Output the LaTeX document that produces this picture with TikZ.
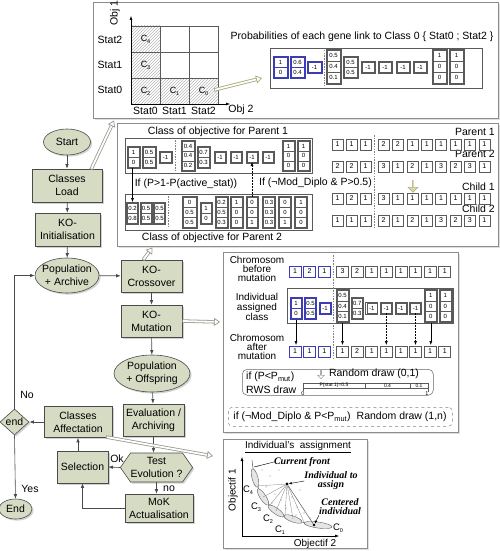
\documentclass[tikz,border=0pt]{standalone}
\usepackage{fontspec}
\setmainfont{Liberation Sans}
\setsansfont{Liberation Sans}
\newfontfamily\timesbi{Liberation Serif}
\usetikzlibrary{arrows.meta,shapes.geometric,shapes.symbols,shapes.arrows,shadows,patterns,calc}

\definecolor{flowfill}{HTML}{D6DBC4}
\definecolor{flowline}{HTML}{4A4A4A}
\definecolor{framec}{HTML}{8C8C8C}
\definecolor{cellc}{HTML}{5A5A5A}
\definecolor{blueb}{HTML}{3C3CB4}
\definecolor{khakif}{HTML}{D9D9A6}
\definecolor{khakid}{HTML}{A8A878}
\definecolor{hollowc}{HTML}{9A9A90}

\newcommand{\Cs}[1]{C\kern-0.3pt\raisebox{-0.45ex}{\fontsize{5.5}{5.5}\selectfont #1}}

% table column: x, ytop, width, row height, colour, rows, entries
\newcommand{\tcol}[7]{%
  \draw[#5, line width=0.5pt] (#1,#2) rectangle ({#1+#3},{#2+#6*#4+2});
  \foreach \v [count=\k from 0] in {#7} {
    \draw[#5, line width=0.4pt] ({#1+1},{#2+1+\k*#4}) rectangle ({#1+#3-1},{#2+1+(\k+1)*#4});
    \node[celltxt] at ({#1+#3/2},{#2+1+(\k+0.5)*#4}) {\v};
  }%
}
% gene boxes: x0, pitch, ytop, colour, width, entries
\newcommand{\gboxes}[6]{%
  \foreach \v [count=\k from 0] in {#6} {
    \node[genebox, draw=#4, minimum width=#5pt] at ({#1+\k*#2+#5/2},{#3+5.5}) {\v};
  }%
}
% hollow double arrow
\newcommand{\hollowarrow}[3][hollowc]{%
  \draw[#1, line width=3.4pt, shorten >=4pt] #2 -- #3;
  \draw[white, line width=1.8pt, shorten >=3pt, shorten <=0.8pt] #2 -- #3;
  \draw[#1, line width=0.7pt, -{Triangle[fill=white,length=6pt,width=8pt]}] ($#3!6pt!#2$) -- #3;
}

\begin{document}
\begin{tikzpicture}[x=1pt,y=-1pt,
  font=\fontsize{10.5}{12.5}\selectfont,
  fc/.style={draw=flowline, fill=flowfill, line width=0.6pt, align=center, inner sep=1pt,
     font=\fontsize{10.5}{13}\selectfont,
     drop shadow={shadow xshift=1.6pt, shadow yshift=-1.6pt, fill=black!35}},
  arr/.style={-{Latex[length=4.5pt,width=3.5pt]}, line width=0.6pt, draw=flowline},
  sarr/.style={-{Latex[length=4pt,width=3pt]}, line width=0.5pt, draw=black},
  panelbox/.style={draw=framec, line width=0.8pt, fill=white, anchor=north west, inner sep=0,
     drop shadow={shadow xshift=1.2pt, shadow yshift=-1.2pt, fill=black!25}},
  tbox/.style={draw=cellc, line width=0.5pt, anchor=north west, inner sep=0},
  celltxt/.style={inner sep=0, font=\fontsize{6}{6}\selectfont},
  genebox/.style={inner sep=0, minimum height=11pt, line width=0.6pt,
     font=\fontsize{7}{7}\selectfont},
  sepline/.style={draw=gray, dash pattern=on 1.5pt off 1.2pt, line width=0.5pt},
  txt/.style={inner sep=0, font=\fontsize{10.5}{12}\selectfont},
  bi/.style={inner sep=0, align=center, font=\fontsize{10}{9}\timesbi\bfseries\itshape},
]
\useasboundingbox (0,0) rectangle (500,551);

% ================= panels =================
\node[panelbox, minimum width=405pt, minimum height=116pt] (toppanel) at (93,2) {};
\node[panelbox, minimum width=381pt, minimum height=123pt] (xpanel) at (117,123) {};
\node[panelbox, minimum width=235pt, minimum height=180pt] (mpanel) at (223,252) {};
\node[panelbox, minimum width=144pt, minimum height=109pt] (apanel) at (223,439) {};

% ================= top panel =================
\fill[pattern=north east lines, pattern color=gray!55] (131,26) rectangle (160,104);
\fill[pattern=north east lines, pattern color=gray!55] (160,78) rectangle (218,104);
\draw[cellc, line width=0.5pt] (131,26) rectangle (218,104)
  (160,26) -- (160,104) (189,26) -- (189,104) (131,52) -- (218,52) (131,78) -- (218,78);
\draw[sarr] (131,104) -- (131,16);
\draw[sarr] (131,104) -- (230,104);
\node[txt, font=\fontsize{9}{9}\selectfont] (c4) at (145.5,39) {\Cs{4}};
\node[txt, font=\fontsize{9}{9}\selectfont] (c3) at (145.5,65) {\Cs{3}};
\node[txt, font=\fontsize{9}{9}\selectfont] (c2) at (145.5,91) {\Cs{2}};
\node[txt, font=\fontsize{9}{9}\selectfont] (c1) at (174.5,91) {\Cs{1}};
\node[txt, font=\fontsize{9}{9}\selectfont] (c0) at (203.5,91) {\Cs{0}};
\node[txt, rotate=90] (obj1) at (115,13) {Obj 1};
\node[txt] (st2) at (110,40) {Stat2};
\node[txt] (st1) at (110,65) {Stat1};
\node[txt] (st0) at (110,90) {Stat0};
\node[txt] (sc0) at (145.5,111) {Stat0};
\node[txt] (sc1) at (174.5,111) {Stat1};
\node[txt] (sc2) at (203.5,111) {Stat2};
\node[txt] (obj2) at (241,110) {Obj 2};
\node[txt] (probtitle) at (362,37) {Probabilities of each gene link to Class 0 \{ Stat0 ; Stat2 \}};
\node[tbox, minimum width=212pt, minimum height=40pt] (probtab) at (270,48) {};
\tcol{273}{56}{15}{10}{blueb}{2}{1,0}
\tcol{290}{56}{15}{10}{blueb}{2}{0.6,0.4}
\tcol{307}{61.5}{15}{10}{blueb}{1}{-1}
\draw[sepline] (324.5,50) -- (324.5,86);
\tcol{326}{49}{15}{11}{cellc}{3}{0.5,0.4,0.1}
\tcol{343}{56}{15}{10}{cellc}{2}{0.5,0.5}
\tcol{361}{61.5}{14}{10}{cellc}{1}{-1}
\tcol{378}{61.5}{14}{10}{cellc}{1}{-1}
\tcol{396}{61.5}{14}{10}{cellc}{1}{-1}
\tcol{413}{61.5}{14}{10}{cellc}{1}{-1}
\tcol{432}{49}{15}{11}{cellc}{3}{1,0,0}
\tcol{449}{49}{15}{11}{cellc}{3}{1,0,0}
\coordinate (c0tail) at (214,90);
\coordinate (probtip) at (262,78);
\hollowarrow[khakid]{(c0tail)}{(probtip)}

% ================= crossover panel =================
\node[txt] (p1title) at (218,132) {Class of objective for Parent 1};
\node[tbox, minimum width=187pt, minimum height=35pt] (p1class) at (125,138) {};
\tcol{127}{146}{13}{10}{cellc}{2}{1,0}
\tcol{142}{146}{14}{10}{cellc}{2}{0.5,0.5}
\tcol{159}{151}{13}{10}{cellc}{1}{-1}
\draw[sepline] (175.5,140) -- (175.5,172);
\tcol{181}{140.5}{14}{9.6}{cellc}{3}{0.4,0.4,0.2}
\tcol{197}{146}{13}{10}{cellc}{2}{0.7,0.3}
\tcol{214}{151}{12}{10}{cellc}{1}{-1}
\tcol{230}{151}{12}{10}{cellc}{1}{-1}
\tcol{246}{151}{12}{10}{cellc}{1}{-1}
\tcol{262}{151}{12}{10}{cellc}{1}{-1}
\tcol{282}{140.5}{13}{9.6}{cellc}{3}{1,0,0}
\tcol{297}{140.5}{13}{9.6}{cellc}{3}{1,0,0}

\node[tbox, minimum width=187pt, minimum height=36pt] (p2class) at (125,194) {};
\tcol{126.5}{202}{12}{10}{cellc}{2}{0.2,0.8}
\tcol{140}{202}{12}{10}{cellc}{2}{0.5,0.5}
\tcol{153.5}{202}{12}{10}{cellc}{2}{0.5,0.5}
\draw[sepline] (168,196) -- (168,228);
\tcol{182}{196.5}{15}{10}{cellc}{3}{0,0.5,0.5}
\tcol{200}{202}{12}{10}{cellc}{2}{1,0}
\tcol{215}{196.5}{13}{10}{cellc}{3}{0.2,0.5,0.3}
\tcol{230}{196.5}{13}{10}{cellc}{3}{1,0,0}
\tcol{246}{196.5}{12}{10}{cellc}{3}{0,0,1}
\tcol{262.5}{196.5}{13}{10}{cellc}{3}{0.3,0.3,0.3}
\tcol{278.5}{196.5}{13}{10}{cellc}{3}{0,0,1}
\tcol{294.5}{196.5}{13}{10}{cellc}{3}{1,0,0}
\node[txt] (p2title) at (212,238) {Class of objective for Parent 2};

\coordinate (p1g1) at (132.5,168);
\coordinate (p2g1) at (132.5,202);
\draw[sarr] (p1g1) -- (p2g1);
\coordinate (p2g7) at (252,196.5);
\coordinate (p1g7) at (252,162);
\draw[sarr, dash pattern=on 1.5pt off 1.5pt] (p2g7) -- (p1g7);
\node[txt] (cond1) at (186,184) {If (P>1-P(active\_stat))};
\node[txt, anchor=west] (cond2) at (259,183) {If (¬Mod\_Diplo \& P>0.5)};

\node[txt, anchor=east] (lp1) at (495,132) {Parent 1};
\node[txt, anchor=east] (lp2) at (495,154) {Parent 2};
\node[txt, anchor=east] (lc1) at (495,187) {Child 1};
\node[txt, anchor=east] (lc2) at (495,209) {Child 2};
\gboxes{332}{14}{139}{cellc}{11}{1,1,1}
\gboxes{378}{14.4}{139}{cellc}{11}{2,2,1,1,1,1,1,1}
\gboxes{332}{14}{161}{cellc}{11}{2,2,1}
\gboxes{378}{14.4}{161}{cellc}{11}{3,1,2,1,3,2,3,1}
\gboxes{332}{14}{193}{cellc}{11}{1,2,1}
\gboxes{378}{14.4}{193}{cellc}{11}{3,1,1,1,1,1,1,1}
\gboxes{332}{14}{215}{cellc}{11}{1,1,1}
\gboxes{378}{14.4}{215}{cellc}{11}{2,1,2,1,3,2,3,1}
\draw[sepline] (374.5,135) -- (374.5,229);
\node[single arrow, draw=khakid, fill=khakif, minimum width=10pt, minimum height=12pt,
  single arrow head extend=2pt, inner sep=0, shape border rotate=270] (kdown) at (413,186) {};

% ================= mutation panel =================
\node[txt, align=center, font=\fontsize{10}{9.2}\selectfont] (tbefore) at (257,269) {Chromosom\\before\\mutation};
\node[txt, align=center, font=\fontsize{10}{9.2}\selectfont] (tclass) at (257,307) {Individual\\assigned\\class};
\node[txt, align=center, font=\fontsize{10}{9.2}\selectfont] (tafter) at (257,347) {Chromosom\\after\\mutation};
\gboxes{289}{14.6}{266}{blueb}{12}{1,2,1}
\gboxes{336.5}{14.6}{266}{cellc}{12}{3,2,1,1,1,1,1,1}
\gboxes{289}{14.6}{346}{blueb}{12}{1,1,1}
\gboxes{336.5}{14.6}{346}{cellc}{12}{1,2,1,1,1,1,1,1}
\node[tbox, minimum width=166pt, minimum height=35pt] (mclass) at (287,288) {};
\tcol{290}{297}{12}{10}{blueb}{2}{1,0}
\tcol{304.5}{297}{12}{10}{blueb}{2}{0.5,0.5}
\tcol{319}{302}{12}{10}{blueb}{1}{-1}
\tcol{336}{289.5}{13}{10.3}{cellc}{3}{0.5,0.4,0.1}
\tcol{351}{297}{12.5}{10}{cellc}{2}{0.7,0.3}
\tcol{365.7}{302}{12}{10}{cellc}{1}{-1}
\tcol{380.3}{302}{12}{10}{cellc}{1}{-1}
\tcol{394.9}{302}{12}{10}{cellc}{1}{-1}
\tcol{409.5}{302}{12}{10}{cellc}{1}{-1}
\tcol{424.3}{289.5}{13}{10.3}{cellc}{3}{1,0,0}
\tcol{438.9}{289.5}{13}{10.3}{cellc}{3}{1,0,0}
\draw[sepline] (333.5,255) -- (333.5,360);
\coordinate (ma1) at (296,320); \coordinate (mb1) at (296,345);
\coordinate (ma2) at (342.5,323); \coordinate (mb2) at (342.5,345);
\coordinate (ma3) at (386.3,313); \coordinate (mb3) at (386.3,345);
\coordinate (ma4) at (415.5,313); \coordinate (mb4) at (415.5,345);
\coordinate (ma5) at (430.8,323); \coordinate (mb5) at (430.8,345);
\draw[sarr] (ma1) -- (mb1);
\draw[sarr] (ma2) -- (mb2);
\draw[sarr, dash pattern=on 1.5pt off 1.5pt] (ma3) -- (mb3);
\draw[sarr, dash pattern=on 1.5pt off 1.5pt] (ma4) -- (mb4);
\draw[sarr] (ma5) -- (mb5);

\node[draw=gray!80!black, line width=0.5pt, rounded corners=5pt, anchor=north west,
  minimum width=191pt, minimum height=26pt, inner sep=0] (rwsbox) at (242,369) {};
\node[txt, anchor=west] (rws1) at (246,377) {if (P<P\textsubscript{mut})};
\node[txt, anchor=west] (rws2) at (246,390) {RWS draw};
\node[single arrow, draw=gray, fill=white, minimum width=7pt, minimum height=9pt,
  single arrow head extend=1.5pt, inner sep=0, shape border rotate=270] (rwsarr) at (321,374) {};
\node[txt] (rdraw) at (374,373.5) {Random draw (0,1)};
\draw[cellc, line width=0.4pt] (303,383) rectangle (428,388)
  (365,383) -- (365,388) (410,383) -- (410,388) (303,388) -- (303,391) (428,388) -- (428,392);
\node[celltxt, font=\fontsize{5}{5}\selectfont] (bar1) at (334,385.6) {P(stat 1)=0.5};
\node[celltxt, font=\fontsize{5}{5}\selectfont] (bar2) at (387.5,385.6) {0.4};
\node[celltxt, font=\fontsize{5}{5}\selectfont] (bar3) at (419,385.6) {0.1};
\node[celltxt, font=\fontsize{5.5}{5.5}\selectfont] (bar0) at (303,393.5) {0};
\node[celltxt, font=\fontsize{5.5}{5.5}\selectfont] (barn) at (427,394) {1};

\node[draw=gray, dashed, line width=0.5pt, rounded corners=4pt, anchor=north west,
  minimum width=224pt, minimum height=19pt, inner sep=0] (dbox) at (228,407) {};
\node[txt] (dtext) at (340,417) {if (¬Mod\_Diplo \& P<P\textsubscript{mut})\hspace{6pt}Random draw (1,n)};

% ================= assignment panel =================
\node[txt, font=\fontsize{10}{10}\selectfont] (atitle) at (298,447) {\underline{Individual's\ \ assignment}};
\draw[sarr] (242,536) -- (242,457);
\draw[sarr] (242,536) -- (339,536);
\node[txt, rotate=90, font=\fontsize{10}{10}\selectfont] (ao1) at (233,490) {Objectif 1};
\node[txt, font=\fontsize{10}{10}\selectfont] (ao2) at (315,543.5) {Objectif 2};
\foreach \p in {(262,470),(270,476),(279,470),(266,487),(275,494),(281,500),(292,497),(297,507),
  (286,508),(304,513),(310,518),(296,515),(258,466),(272,503),(300,490)}
  \fill[gray!80] \p circle (0.6);
\draw[cellc, line width=0.5pt] (252,460) .. controls (256,503) and (276,522) .. (332,527);
\node[ellipse, draw=cellc, fill=gray!20, line width=0.4pt, minimum width=19pt, minimum height=6pt, inner sep=0, rotate=-75] (cl4) at (255,478) {};
\node[ellipse, draw=cellc, fill=gray!20, line width=0.4pt, minimum width=19pt, minimum height=6pt, inner sep=0, rotate=-57] (cl3) at (263,497) {};
\node[ellipse, draw=cellc, fill=gray!20, line width=0.4pt, minimum width=19pt, minimum height=6pt, inner sep=0, rotate=-35] (cl2) at (276,511) {};
\node[ellipse, draw=cellc, fill=gray!20, line width=0.4pt, minimum width=19pt, minimum height=6pt, inner sep=0, rotate=-20] (cl1) at (293,519) {};
\node[ellipse, draw=cellc, fill=gray!20, line width=0.4pt, minimum width=28pt, minimum height=6pt, inner sep=0, rotate=-8] (cl0) at (318,525) {};
\node[circle, fill=black, inner sep=0, minimum size=3.2pt] (ind) at (287,484) {};
\node[circle, fill=black, inner sep=0, minimum size=2.6pt] (cen) at (314,525) {};
\foreach \p in {(257,486),(263,497),(270,505),(276,511),(285,515),(293,519),(304,522)}
  \draw[gray, line width=0.3pt] (ind) -- \p;
\draw[cellc, line width=0.5pt] (ind) -- (cen);
\node[txt, font=\fontsize{9.5}{9.5}\selectfont] (lc4) at (248,490) {\Cs{4}};
\node[txt, font=\fontsize{9.5}{9.5}\selectfont] (lc3) at (256,507) {\Cs{3}};
\node[txt, font=\fontsize{9.5}{9.5}\selectfont] (lc2) at (268,519) {\Cs{2}};
\node[txt, font=\fontsize{9.5}{9.5}\selectfont] (lc1) at (280,530) {\Cs{1}};
\node[txt, font=\fontsize{9.5}{9.5}\selectfont] (lc0) at (338,528) {\Cs{0}};
\node[bi] (curfront) at (302,462) {Current front};
\node[bi] (indlab) at (331,481) {Individual to\\assign};
\node[bi] (cenlab) at (340,507) {Centered\\individual};
\coordinate (fronttip) at (254,467);
\draw[line width=0.4pt] (curfront.west) -- (fronttip);
\draw[-{Latex[length=3pt,width=2.5pt]}, line width=0.4pt] (indlab.west) -- (ind);
\draw[-{Latex[length=3pt,width=2.5pt]}, line width=0.4pt] (cenlab.south west) -- (cen);

% ================= flowchart =================
\node[fc, ellipse, inner sep=0pt, minimum width=47pt, minimum height=26pt] (start) at (67,142) {Start};
\node[fc, minimum width=70pt, minimum height=33pt] (load) at (67,185.5) {Classes\\Load};
\node[fc, minimum width=65pt, minimum height=33pt] (init) at (67.5,229.5) {KO-\\Initialisation};
\node[fc, ellipse, inner xsep=-8pt, inner ysep=0pt, minimum width=64pt, minimum height=35pt] (poparch) at (67,275.5) {Population\\+ Archive};
\node[fc, minimum width=61pt, minimum height=32pt] (cross) at (151.5,276) {KO-\\Crossover};
\node[fc, minimum width=61pt, minimum height=32pt] (mut) at (151.5,321) {KO-\\Mutation};
\node[fc, ellipse, inner xsep=-8pt, inner ysep=0pt, minimum width=76pt, minimum height=37pt] (popoff) at (152,373.5) {Population\\+ Offspring};
\node[fc, minimum width=61pt, minimum height=32pt] (eval) at (153.5,420) {Evaluation /\\Archiving};
\node[fc, minimum width=68pt, minimum height=31pt] (aff) at (78,422) {Classes\\Affectation};
\node[fc, diamond, inner sep=0pt, minimum width=29pt, minimum height=26pt] (endd) at (14.5,422) {end};
\node[fc, ellipse, inner sep=0pt, minimum width=33pt, minimum height=20pt] (End) at (15.5,509) {End};
\node[fc, signal, signal to=west and east, signal pointer angle=110, inner sep=0pt,
  minimum width=70pt, minimum height=29pt] (test) at (156.5,467.5) {Test\\Evolution ?};
\node[fc, minimum width=51pt, minimum height=32pt] (sel) at (82.5,467) {Selection};
\node[fc, minimum width=68pt, minimum height=28pt] (mok) at (159,508) {MoK\\Actualisation};

\draw[arr] (start) -- (load);
\draw[arr] (load) -- (init);
\draw[arr] (init) -- (poparch);
\draw[arr] (poparch) -- (cross);
\draw[arr] (cross) -- (mut);
\draw[arr] (mut) -- (popoff);
\draw[arr] (popoff) -- (eval);
\draw[arr] (eval.south) -- (eval.south |- test.north);
\draw[arr] (test.west) -- (sel.east);
\draw[arr] (test.south) -- (test.south |- mok.north);
\draw[arr] (mok.west) -| (sel.south);
\draw[arr] (sel.north -| aff.south) -- (aff.south);
\draw[arr] (aff.west) -- (endd.east);
\draw[arr] (endd.south) -- (End.north);
\draw[arr] (endd.north) |- (poparch.west);
\node[txt] (lok) at (117,459) {Ok};
\node[txt] (lno) at (169,488.5) {no};
\node[txt] (lNo) at (27,395) {No};
\node[txt] (lYes) at (30,489) {Yes};

% ================= hollow pointer arrows =================
\coordinate (loadtail) at (91,169.5);
\coordinate (toptip) at (114,120.5);
\hollowarrow{(loadtail)}{(toptip)}
\coordinate (crosstail) at (143,260);
\coordinate (crosstip) at (152.5,247.5);
\hollowarrow{(crosstail)}{(crosstip)}
\coordinate (muttip) at (220,322);
\hollowarrow{(mut.east)}{(muttip)}
\coordinate (afftail) at (106,437);
\coordinate (afftip) at (213,456);
\hollowarrow{(afftail)}{(afftip)}
\end{tikzpicture}
\end{document}
